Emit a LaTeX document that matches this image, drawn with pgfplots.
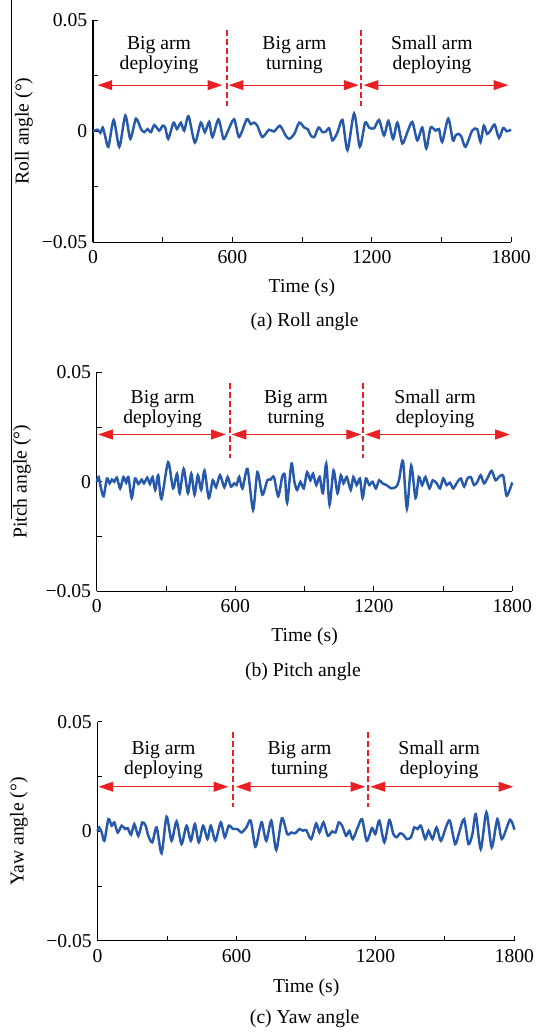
\documentclass[border=0pt]{standalone}
\usepackage{fontspec}
\setmainfont{Liberation Serif}
\usepackage{pgfplots}
\pgfplotsset{compat=1.18}
\usetikzlibrary{arrows.meta}

\definecolor{sigblue}{RGB}{38,88,172}
\definecolor{annred}{RGB}{236,32,36}

% 1 px of the reference = 0.609pt
\def\u{0.609pt}
\newcommand{\lbl}{\fontsize{12}{12.2}\selectfont}

\pgfplotsset{
  panel/.style={
    scale only axis, axis lines=left, axis line style={-, line width=0.7pt},
    xmin=0, xmax=1800, ymin=-0.05, ymax=0.05,
    scaled y ticks=false, scaled x ticks=false,
    xtick={0,300,...,1800}, xticklabels={0,,600,,1200,,1800},
    ytick={-0.05,-0.025,0,0.025,0.05}, yticklabels={−0.05,,0,,0.05},
    tick align=inside, major tick length=3pt,
    tick style={black, line width=0.6pt},
    ticklabel style={font=\lbl},
    xticklabel style={yshift=-1.5pt},
    clip=false,
  },
  sig/.style={sigblue, line width=1.5pt, smooth, tension=0.45},
}
\tikzset{
  sep/.style={annred, line width=1.2pt, dash pattern=on 3.6pt off 1.8pt},
  span/.style={annred, line width=0.75pt,
    {Triangle[length=9pt,width=6pt]}-{Triangle[length=9pt,width=6pt]}},
}

\begin{document}
\begin{tikzpicture}
\path (0,0) rectangle (538*\u,-1033*\u);
\draw[line width=0.6pt] (12*\u,0) -- (12*\u,-520*\u);

% (a) Roll angle
\begin{axis}[panel, at={(93.3*\u,-242.3*\u)}, anchor=south west,
  width=255.2pt, height=135.4pt]
\addplot[sig] coordinates {
(0,0) (5.8,0.0003) (20.2,0.0007) (31.6,-0.0007) (41.6,0.0017) (51.7,-0.0019)
(66,-0.007) (88.9,0.0051) (113.2,-0.007) (139,0.0071) (160.5,-0.0034)
(184.8,0.0057) (206.3,0.001) (220.6,-0.0004) (235,0.001) (249.3,-0.0004)
(263.6,0.0028) (285.1,0.0003) (299.4,0.0025) (310.9,0.0017) (323.7,-0.0034)
(346.7,0.0039) (361,0.001) (378.2,0.0039) (392.5,0.0003) (411.1,0.0068)
(438.3,-0.0051) (464.1,0.0039) (481.3,-0.0004) (499.9,0.0042) (514.2,-0.0026)
(540,0.0054) (561.5,-0.0034) (578.6,-0.0004) (607.3,0.0054) (628.8,-0.0026)
(661.7,0.0054) (678.9,0.0032) (693.2,0.0039) (707.5,0.0025) (729,-0.0026)
(757.6,0.0007) (779.1,-0.0001) (804.9,0.0025) (829.2,-0.0019) (845,-0.0034)
(866.5,-0.0012) (888,0.0039) (909.4,0.0017) (923.8,0.001) (938.1,-0.0019)
(952.4,-0.0026) (971,0.0017) (988.2,-0.0004) (1002.5,-0.0001) (1016.8,0.0013)
(1031.2,-0.0041) (1052.6,-0.0004) (1074.1,0.0051) (1095.6,-0.0085) (1124.2,0.008)
(1148.6,-0.007) (1171.5,0.0039) (1188.7,0.0017) (1210.2,0.0013) (1231.6,0.0051)
(1253.1,-0.0019) (1271.7,0.0047) (1291.8,-0.0034) (1310.4,0.0039) (1331.9,-0.0055)
(1353.4,-0.0004) (1374.8,0.0042) (1396.3,-0.0041) (1417.8,0.0017) (1435,-0.0077)
(1453.6,0.0017) (1475.1,0.0003) (1489.4,0.001) (1503.7,-0.0048) (1529.5,0.0057)
(1549.5,-0.0041) (1561,-0.0019) (1575.3,-0.0012) (1586.8,-0.0026) (1604,-0.007)
(1632.6,0.0003) (1654.1,0.001) (1668.4,-0.0048) (1682.7,0.0025) (1697.1,-0.0012)
(1711.4,0.0003) (1729,0.003) (1748,-0.003) (1766,0.0015) (1781,0) (1800,0.0007)
};
\draw[sep] (axis cs:575,0.0455) -- (axis cs:575,0.0113);
\draw[sep] (axis cs:1153,0.0455) -- (axis cs:1153,0.0113);
\draw[span] (axis cs:19,0.0208) -- (axis cs:557,0.0208);
\draw[span] (axis cs:584,0.0208) -- (axis cs:1144,0.0208);
\draw[span] (axis cs:1165,0.0208) -- (axis cs:1788,0.0208);
\node[align=center, font=\lbl] at (axis cs:284,0.0343) {Big arm\\deploying};
\node[align=center, font=\lbl] at (axis cs:867,0.0343) {Big arm\\turning};
\node[align=center, font=\lbl] at (axis cs:1459,0.0343) {Small arm\\deploying};
\end{axis}
\node[rotate=90, font=\lbl] at (24*\u,-131*\u) {Roll angle (°)};
\node[font=\lbl] at (302.7*\u,-288.3*\u) {Time (s)};
\node[font=\lbl] at (305.4*\u,-321.7*\u) {(a) Roll angle};

% (b) Pitch angle
\begin{axis}[panel, at={(97.1*\u,-592.3*\u)}, anchor=south west,
  width=253.6pt, height=133.7pt]
\addplot[sig] coordinates {
(0,0) (7.8,0.0022) (17.9,-0.003) (29.3,-0.0066) (43.7,0.0015) (55.1,-0.0007)
(65.1,0.001) (75.2,0) (86.6,0.0019) (101,-0.003) (115.3,0.0022) (126.8,-0.0004)
(136.8,0.0022) (151.1,-0.0074) (165.5,0.0015) (179.8,-0.001) (194.1,0.001)
(204.1,-0.0007) (218.5,0.0019) (229.9,-0.001) (241.4,0.0022) (252.9,-0.0037)
(265.8,0.003) (280.1,-0.0078) (308.8,0.0089) (330.3,-0.003) (347.4,0.0037)
(358.9,-0.0052) (376.1,0.0059) (394.7,-0.0052) (409.1,0.0037) (423.4,-0.0059)
(437.7,0.003) (452.1,-0.0037) (466.4,0.0052) (485,-0.0074) (502.2,0.0007)
(516.5,-0.0025) (533.7,0.003) (552.4,-0.0025) (566.7,0.0022) (581,-0.0022)
(595.4,-0.0007) (605.4,-0.0015) (616.9,0.0022) (631.2,-0.003) (652.7,0.0059)
(677,-0.0128) (695.7,0.0044) (717.2,-0.0059) (738.7,0.0007) (753,0.001)
(767.3,0.0022) (786,-0.0066) (803.1,0.0022) (814.6,0.003) (824.6,-0.0096)
(843.3,0.0083) (856,0) (867.9,-0.0037) (882.3,0) (896.6,-0.003) (910.9,0.0044)
(925.3,0.0007) (936.7,0.0037) (951,-0.0015) (965.4,0.0022) (979.7,-0.0052)
(994,0.0083) (1008.4,-0.0105) (1025.6,0.0052) (1042.8,-0.0052) (1057.1,0.003)
(1068.6,-0.0007) (1082.9,0.0022) (1100.1,-0.0037) (1111.5,0.0022) (1125.9,-0.0015)
(1140.2,0.0015) (1151.7,-0.0074) (1166,0.0015) (1180.3,-0.0015) (1194.7,0)
(1209,-0.003) (1223.3,0.0007) (1237.6,-0.0007) (1254.8,-0.0015) (1276.3,-0.003)
(1297.8,-0.0022) (1309.3,0.0007) (1326.5,0.0095) (1343.7,-0.0122) (1362.3,0.0074)
(1381,-0.0074) (1395.3,0.0022) (1409.6,-0.0015) (1424,0.0022) (1441.1,-0.003)
(1455.5,0.0007) (1472.7,-0.0007) (1487,-0.003) (1501.3,0.0015) (1515.7,-0.0015)
(1530,-0.0004) (1544.3,-0.003) (1563,0) (1577.3,0.0015) (1591.6,-0.0022)
(1606,0.0015) (1620.3,0.0022) (1634.6,-0.0015) (1649,0) (1663.3,0.003)
(1677.6,-0.0007) (1691.9,0.0015) (1710.5,0.005) (1727.7,0.0007) (1742,0.0022)
(1761,0.0027) (1776,-0.0064) (1800,-0.0003)
};
\draw[sep] (axis cs:575,0.0451) -- (axis cs:575,0.011);
\draw[sep] (axis cs:1155,0.0451) -- (axis cs:1155,0.011);
\draw[span] (axis cs:5,0.0216) -- (axis cs:559,0.0216);
\draw[span] (axis cs:584,0.0216) -- (axis cs:1145,0.0216);
\draw[span] (axis cs:1163,0.0216) -- (axis cs:1790,0.0216);
\node[align=center, font=\lbl] at (axis cs:285,0.0334) {Big arm\\deploying};
\node[align=center, font=\lbl] at (axis cs:863,0.0334) {Big arm\\turning};
\node[align=center, font=\lbl] at (axis cs:1466,0.0334) {Small arm\\deploying};
\end{axis}
\node[rotate=90, font=\lbl] at (22*\u,-482.5*\u) {Pitch angle (°)};
\node[font=\lbl] at (305.4*\u,-638.3*\u) {Time (s)};
\node[font=\lbl] at (303.7*\u,-672.7*\u) {(b) Pitch angle};

% (c) Yaw angle
\begin{axis}[panel, at={(97.8*\u,-942.7*\u)}, anchor=south west,
  width=254.5pt, height=133.6pt]
\addplot[sig] coordinates {
(0,0) (6.6,0.0018) (18.1,-0.0005) (29.6,-0.0043) (46.8,0.0056) (61.1,0.0026)
(72.6,0.0041) (87,-0.0005) (104.2,0.0026) (118.6,0.0011) (130.1,0.0015)
(144.4,-0.0015) (158.8,0.0033) (176,-0.002) (193.2,0.0041) (207.6,0.0026)
(219.1,-0.002) (236.3,-0.005) (255,0.0018) (276.5,-0.01) (298,0.0067)
(319.6,-0.0043) (341.1,0.0046) (362.6,-0.0058) (384.2,0.0026) (402.8,-0.0043)
(420.1,0.0033) (437.3,-0.005) (455.9,0.0026) (474.6,-0.0035) (489,0.0026)
(509.1,-0.0043) (532.1,0.0041) (549.3,-0.0027) (566.5,0.0026) (585.2,0.0011)
(603.8,0.0011) (621.1,-0.0005) (642.6,0.0018) (661.3,0.0049) (681.4,-0.007)
(700,0.0011) (710.1,0.0041) (728.7,-0.0043) (750.3,0.0049) (771.8,-0.0085)
(796.2,0.0061) (819.2,-0.0012) (836.4,-0.0005) (850.8,-0.0009) (862,0)
(872.3,0.0011) (886.6,0.0003) (901,0.0006) (922.5,-0.0035) (944,0.0036)
(958.4,-0.0005) (975.6,0.0041) (994.3,-0.002) (1013,0) (1027.3,-0.0005)
(1041.7,0.0041) (1056,0.0026) (1073.3,-0.002) (1087.6,0.0003) (1102,-0.0035)
(1123.5,0.0018) (1142.2,0.0056) (1162.3,-0.0043) (1185.2,0.0015) (1199.6,-0.0012)
(1216.8,0.0049) (1238.4,-0.005) (1259.9,0.0052) (1277.1,-0.0012) (1291.5,-0.0027)
(1305.8,-0.0009) (1320.2,-0.0015) (1334.6,-0.0035) (1353.2,-0.0027) (1367.6,0.0018)
(1381.9,0.0011) (1396.3,0.0026) (1415,-0.0035) (1429.3,0.0003) (1446.5,-0.0035)
(1463.8,0.0018) (1482.4,-0.0043) (1504,0.0018) (1521.2,0.0049) (1544.2,-0.0058)
(1561.4,-0.0005) (1582.9,0.0056) (1601.6,-0.0058) (1618.8,-0.0012) (1633.2,0.0079)
(1654.7,-0.0081) (1679.1,0.0087) (1702.1,-0.0073) (1726.5,0.0056) (1746,-0.0035)
(1781,0.0053) (1800,0.0008)
};
\draw[sep] (axis cs:584,0.0454) -- (axis cs:584,0.0112);
\draw[sep] (axis cs:1167,0.0454) -- (axis cs:1167,0.0112);
\draw[span] (axis cs:4,0.0204) -- (axis cs:565,0.0204);
\draw[span] (axis cs:597,0.0204) -- (axis cs:1156,0.0204);
\draw[span] (axis cs:1178,0.0204) -- (axis cs:1795,0.0204);
\node[align=center, font=\lbl] at (axis cs:285,0.0327) {Big arm\\deploying};
\node[align=center, font=\lbl] at (axis cs:872,0.0327) {Big arm\\turning};
\node[align=center, font=\lbl] at (axis cs:1475,0.0327) {Small arm\\deploying};
\end{axis}
\node[rotate=90, font=\lbl] at (19*\u,-833*\u) {Yaw angle (°)};
\node[font=\lbl] at (307*\u,-989.3*\u) {Time (s)};
\node[font=\lbl] at (305.4*\u,-1020.7*\u) {(c) Yaw angle};
\end{tikzpicture}
\end{document}
